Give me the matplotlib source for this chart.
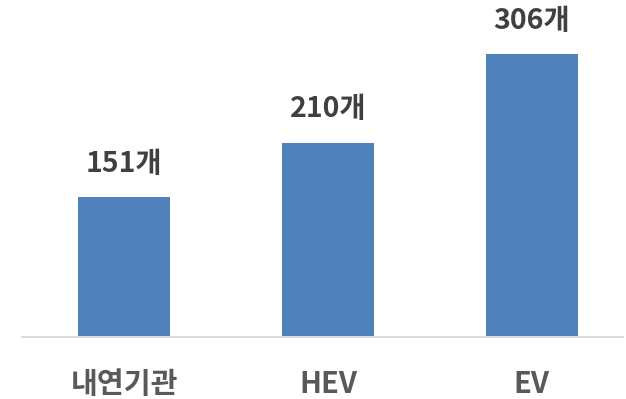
import matplotlib.pyplot as plt

plt.rcParams['font.family'] = ['Noto Sans CJK KR', 'DejaVu Sans']

categories = ["내연기관", "HEV", "EV"]
counts = [151, 210, 306]
labels = ["151개", "210개", "306개"]

fig = plt.figure(figsize=(6.26, 3.99), dpi=100)
ax = fig.add_axes([0.035, 0.155, 0.96, 0.845])

x = range(len(categories))
bars = ax.bar(x, counts, width=0.45, color="#4F81BD", zorder=2)

# 막대 위 값 표시
for b, txt in zip(bars, labels):
    ax.annotate(txt, (b.get_x() + b.get_width() / 2, b.get_height()),
                xytext=(0, 24), textcoords="offset points",
                ha="center", va="center", fontsize=20.5, fontweight="bold",
                color="#404040")

ax.set_xlim(-0.501, 2.447)
ax.set_ylim(0, 364.3)
ax.set_xticks(list(x))
ax.set_xticklabels(categories, fontsize=21, fontweight="bold", color="#595959")
ax.tick_params(axis="x", length=0, pad=23)
ax.set_yticks([])

for s in ["top", "right", "left"]:
    ax.spines[s].set_visible(False)
ax.spines["bottom"].set_color("#D9D9D9")
ax.spines["bottom"].set_linewidth(1.5)

fig.savefig("out.png", dpi=100)
